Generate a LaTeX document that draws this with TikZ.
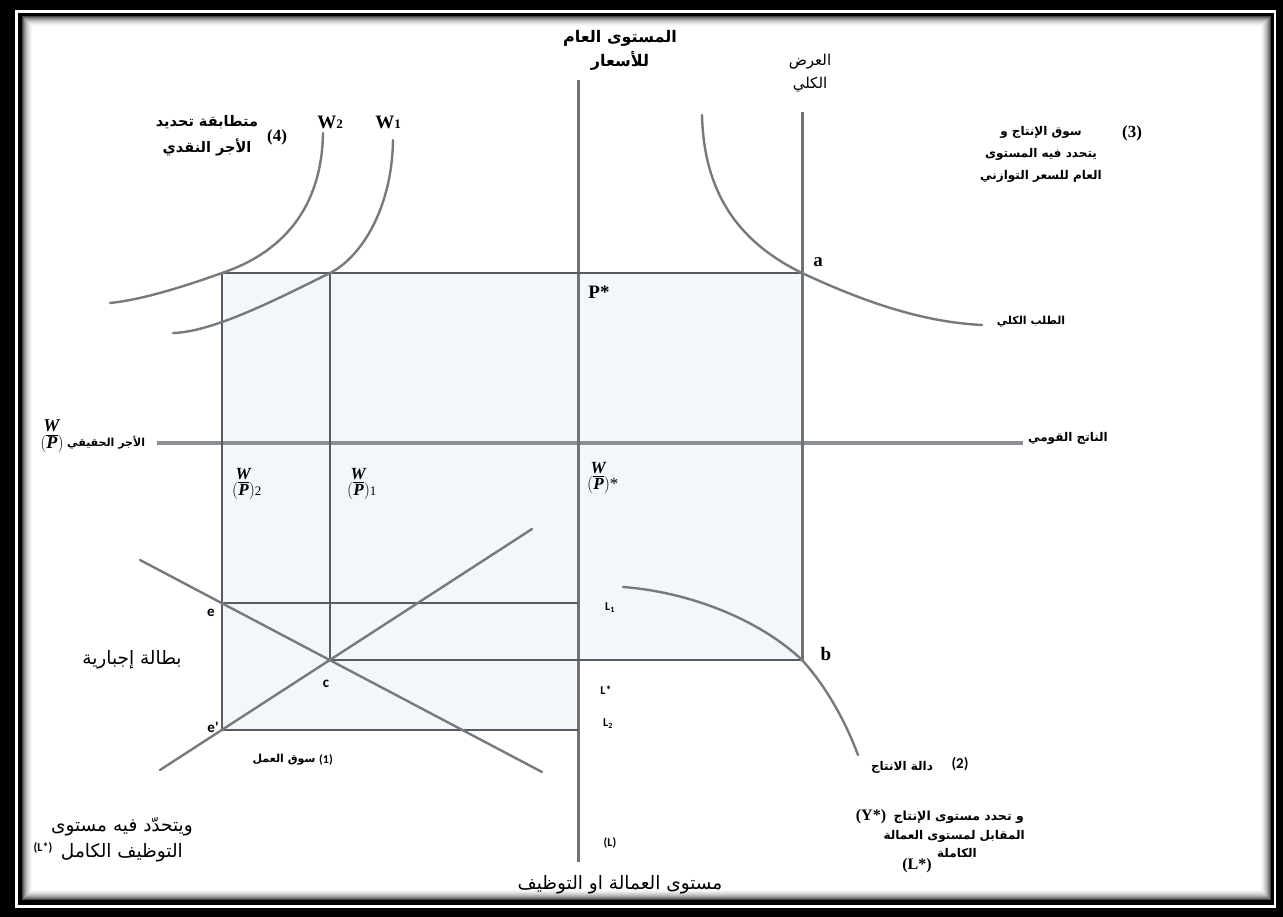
\documentclass[tikz,border=0pt]{standalone}
\usepackage{fontspec}
\setmainfont{Liberation Serif}
\newfontfamily\arabicfont[Script=Arabic]{DejaVu Sans}
\newfontfamily\carl{Carlito}
\TeXXeTstate=1
\newcommand{\rtltext}[1]{\beginR #1\endR}
\newcommand{\wpfrac}[1]{\shortstack{\textbf{\textit{W}}\\[-1pt]$(\overline{\hbox{\textbf{\textit{P}}}})$}#1}
\definecolor{axisgray}{RGB}{112,115,118}
\definecolor{boxgray}{RGB}{88,91,95}
\definecolor{curvegray}{RGB}{118,121,125}
\definecolor{npgray}{RGB}{140,143,147}
\definecolor{tint}{RGB}{243,247,251}
\begin{document}
\begin{tikzpicture}[x=1pt,y=-1pt,
  boxline/.style={draw=boxgray,line width=2.4pt},
  axisline/.style={draw=axisgray,line width=3pt},
  npline/.style={draw=npgray,line width=4pt},
  curveline/.style={draw=curvegray,line width=2.4pt,line cap=round},
  arbold/.style={font=\arabicfont\bfseries\fontsize{15}{23}\selectfont,align=center,inner sep=0pt},
  arblock/.style={font=\arabicfont\bfseries\fontsize{12}{22}\selectfont,align=center,inner sep=0pt},
  arsmall/.style={font=\arabicfont\bfseries\fontsize{11}{18}\selectfont,align=center,inner sep=0pt},
  arreg/.style={font=\arabicfont\fontsize{18.5}{26}\selectfont,align=center,inner sep=0pt},
  serlab/.style={font=\bfseries\fontsize{19}{20}\selectfont,inner sep=0pt},
  numlab/.style={font=\bfseries\fontsize{17}{18}\selectfont,inner sep=0pt},
  fraclab/.style={font=\fontsize{17}{18}\selectfont,inner sep=0pt},
  smalllab/.style={font=\carl\bfseries\fontsize{12}{13}\selectfont,inner sep=0pt},
  ptlab/.style={font=\carl\bfseries\fontsize{15}{16}\selectfont,inner sep=0pt}
]
\useasboundingbox (0,0) rectangle (1283,917);
% frame
\fill[black] (0,0) rectangle (1283,917);
\fill[white] (15,10) rectangle (1276,908);
\fill[black] (18,13) rectangle (1274,905);
\foreach \k [count=\i] in {72,58,46,36,28,21,15,10,6,3} {
  \fill[black!\k] (21+\i,15+\i) rectangle (1272-\i,901-\i);
}
\fill[white] (32,26) rectangle (1261,890);

% points
\coordinate (axT) at (578,80);
\coordinate (axB) at (578,862);
\coordinate (asT) at (802,112);
\coordinate (a) at (802,273);
\coordinate (pst) at (578,273);
\coordinate (w2p) at (222,273);
\coordinate (w1p) at (330,273);
\coordinate (e) at (222,603);
\coordinate (ep) at (222,730);
\coordinate (c) at (330,660);
\coordinate (b) at (802,660);
\coordinate (l1) at (578,603);
\coordinate (lst) at (578,660);
\coordinate (l2) at (578,730);
\coordinate (npL) at (157,443);
\coordinate (npR) at (1023,443);
\coordinate (ldA) at (140,560);
\coordinate (ldB) at (542,772);
\coordinate (lsA) at (160,770);
\coordinate (lsB) at (532,529);
\coordinate (w2T) at (323,133);
\coordinate (w2E) at (110,303);
\coordinate (w1T) at (393,140);
\coordinate (w1E) at (173,333);
\coordinate (adT) at (702,115);
\coordinate (adE) at (982,325);
\coordinate (pfS) at (623,587);
\coordinate (pfE) at (858,755);

% tinted area
\fill[tint] (w2p) -- (a) -- (b) -- (lst) -- (l2) -- (ep) -- cycle;

% main lines
\draw[npline] (npL) -- (npR);
\draw[axisline] (axT) -- (axB);
\draw[axisline] (asT) -- (b);
\draw[boxline] (w2p) -- (a);
\draw[boxline] (w2p) -- (ep);
\draw[boxline] (w1p) -- (c);
\draw[boxline] (e) -- (l1);
\draw[boxline] (c) -- (b);
\draw[boxline] (ep) -- (l2);

% labour market lines
\draw[curveline] (ldA) -- (ldB);
\draw[curveline] (lsA) -- (lsB);

% curves
\draw[curveline] (w2T) .. controls (322,200) and (290,250) .. (w2p)
  .. controls (180,288) and (140,300) .. (w2E);
\draw[curveline] (w1T) .. controls (392,210) and (360,258) .. (w1p)
  .. controls (285,295) and (215,332) .. (w1E);
\draw[curveline] (adT) .. controls (704,200) and (745,245) .. (a)
  .. controls (860,300) and (920,322) .. (adE);
\draw[curveline] (pfS) .. controls (690,592) and (760,620) .. (b)
  .. controls (825,685) and (845,720) .. (pfE);

% labels: top left
\node[numlab] (n4) at (277,137) {(4)};
\node[arbold,font=\arabicfont\bfseries\fontsize{14.5}{26}\selectfont] (t4) at (207,136) {\rtltext{متطابقة تحديد}\\\rtltext{الأجر النقدي}};
\node[serlab,anchor=base] (lw2) at (330,129) {W{\fontsize{13}{14}\selectfont 2}};
\node[serlab,anchor=base] (lw1) at (388,129) {W{\fontsize{13}{14}\selectfont 1}};

% top centre
\node[arbold,font=\arabicfont\bfseries\fontsize{16}{24}\selectfont] (tax) at (620,50) {\rtltext{المستوى العام}\\\rtltext{للأسعار}};
\node[arreg,font=\arabicfont\fontsize{15}{23}\selectfont] (tas) at (810,73) {\rtltext{العرض}\\\rtltext{الكلي}};

% top right
\node[numlab] (n3) at (1132,133) {(3)};
\node[arblock] (t3) at (1041,154) {\rtltext{سوق الإنتاج و}\\\rtltext{يتحدد فيه المستوى}\\\rtltext{العام للسعر التوازني}};

\node[serlab] (la) at (818,262) {a};
\node[serlab] (lp) at (599,292) {P*};
\node[arsmall] (tad) at (1031,322) {\rtltext{الطلب الكلي}};
\node[arsmall,font=\arabicfont\bfseries\fontsize{12}{18}\selectfont] (tnp) at (1068,438) {\rtltext{الناتج القومي}};

% real wage
\node[fraclab,font=\fontsize{18}{19}\selectfont,anchor=base] (fw) at (52,448) {\wpfrac{}};
\node[arsmall,anchor=base west] (trw) at (67,446) {\rtltext{الأجر الحقيقي}};
\node[fraclab,anchor=base west] (fw2) at (232,495) {\wpfrac{\fontsize{13}{14}\selectfont 2}};
\node[fraclab,anchor=base west] (fw1) at (347,495) {\wpfrac{\fontsize{13}{14}\selectfont 1}};
\node[fraclab,anchor=base west] (fws) at (587,489) {\wpfrac{*}};

% L labels
\node[smalllab] (ll1) at (610,608) {L\textsubscript{1}};
\node[smalllab] (lls) at (606,690) {L*};
\node[smalllab] (ll2) at (608,724) {L\textsubscript{2}};
\node[smalllab] (lll) at (610,843) {(L)};
\node[serlab] (lb) at (826,654) {b};

% points labels
\node[ptlab] (le) at (211,613) {e};
\node[ptlab] (lep) at (213,727) {e'};
\node[ptlab] (lc) at (326,684) {c};

% left texts
\node[arreg] (tunemp) at (132,660) {\rtltext{بطالة إجبارية}};
\node[smalllab] (n1) at (326,760) {(1)};
\node[arsmall] (t1) at (284,760) {\rtltext{سوق العمل}};
\node[arreg,anchor=east] (tfe1) at (193,827) {\rtltext{ويتحدّد فيه مستوى}};
\node[arreg,anchor=east] (tfe2) at (183,853) {\rtltext{التوظيف الكامل}};
\node[smalllab] (tfe3) at (43,848) {(L*)};

% bottom centre
\node[arreg] (tbot) at (620,885) {\rtltext{مستوى العمالة او التوظيف}};

% production function labels
\node[ptlab] (n2) at (960,764) {(2)};
\node[arsmall,font=\arabicfont\bfseries\fontsize{12}{18}\selectfont] (t2) at (902,767) {\rtltext{دالة الانتاج}};
\node[font=\bfseries\fontsize{16}{17}\selectfont,inner sep=0pt] (ly) at (871,817) {(Y*)};
\node[arsmall,font=\arabicfont\bfseries\fontsize{12.5}{18}\selectfont,anchor=east] (tpf1) at (1024,817) {\rtltext{و تحدد مستوى الإنتاج}};
\node[arsmall,font=\arabicfont\bfseries\fontsize{12}{18}\selectfont,anchor=east] (tpf2) at (1025,836) {\rtltext{المقابل لمستوى العمالة}};
\node[arsmall,font=\arabicfont\bfseries\fontsize{12}{18}\selectfont] (tpf3) at (957,853) {\rtltext{الكاملة}};
\node[font=\bfseries\fontsize{16}{17}\selectfont,inner sep=0pt] (ll) at (917,866) {(L*)};
\end{tikzpicture}
\end{document}
